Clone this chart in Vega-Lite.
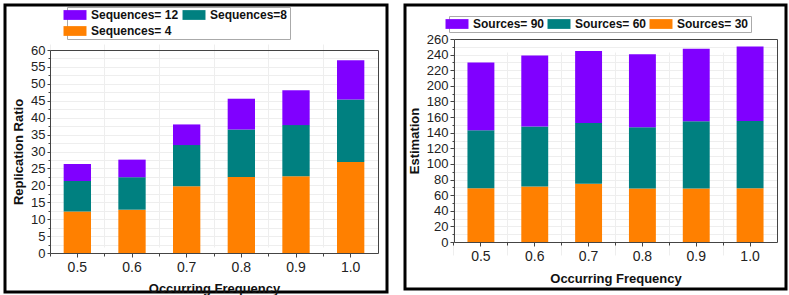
{
  "$schema": "https://vega.github.io/schema/vega-lite/v6.json",
  "padding": {"left": 3, "top": 3, "right": 0, "bottom": 0},
  "background": "white",
  "spacing": 14,
  "resolve": {"scale": {"color": "independent"}, "legend": {"color": "independent"}},
  "datasets": {
    "left": [
      {"freq": "0.5", "series": "Sequences= 4", "k": 1, "value": 12.3},
      {"freq": "0.5", "series": "Sequences=8", "k": 2, "value": 9.0},
      {"freq": "0.5", "series": "Sequences= 12", "k": 3, "value": 5.0},
      {"freq": "0.6", "series": "Sequences= 4", "k": 1, "value": 12.8},
      {"freq": "0.6", "series": "Sequences=8", "k": 2, "value": 9.6},
      {"freq": "0.6", "series": "Sequences= 12", "k": 3, "value": 5.2},
      {"freq": "0.7", "series": "Sequences= 4", "k": 1, "value": 19.7},
      {"freq": "0.7", "series": "Sequences=8", "k": 2, "value": 12.2},
      {"freq": "0.7", "series": "Sequences= 12", "k": 3, "value": 6.1},
      {"freq": "0.8", "series": "Sequences= 4", "k": 1, "value": 22.5},
      {"freq": "0.8", "series": "Sequences=8", "k": 2, "value": 14.0},
      {"freq": "0.8", "series": "Sequences= 12", "k": 3, "value": 9.1},
      {"freq": "0.9", "series": "Sequences= 4", "k": 1, "value": 22.7},
      {"freq": "0.9", "series": "Sequences=8", "k": 2, "value": 15.1},
      {"freq": "0.9", "series": "Sequences= 12", "k": 3, "value": 10.3},
      {"freq": "1.0", "series": "Sequences= 4", "k": 1, "value": 26.9},
      {"freq": "1.0", "series": "Sequences=8", "k": 2, "value": 18.5},
      {"freq": "1.0", "series": "Sequences= 12", "k": 3, "value": 11.6}
    ],
    "right": [
      {"freq": "0.5", "series": "Sources= 30", "k": 1, "value": 69},
      {"freq": "0.5", "series": "Sources= 60", "k": 2, "value": 74},
      {"freq": "0.5", "series": "Sources= 90", "k": 3, "value": 87},
      {"freq": "0.6", "series": "Sources= 30", "k": 1, "value": 71},
      {"freq": "0.6", "series": "Sources= 60", "k": 2, "value": 77},
      {"freq": "0.6", "series": "Sources= 90", "k": 3, "value": 91},
      {"freq": "0.7", "series": "Sources= 30", "k": 1, "value": 74.5},
      {"freq": "0.7", "series": "Sources= 60", "k": 2, "value": 78},
      {"freq": "0.7", "series": "Sources= 90", "k": 3, "value": 92},
      {"freq": "0.8", "series": "Sources= 30", "k": 1, "value": 68.5},
      {"freq": "0.8", "series": "Sources= 60", "k": 2, "value": 78.5},
      {"freq": "0.8", "series": "Sources= 90", "k": 3, "value": 93.5},
      {"freq": "0.9", "series": "Sources= 30", "k": 1, "value": 68.5},
      {"freq": "0.9", "series": "Sources= 60", "k": 2, "value": 86},
      {"freq": "0.9", "series": "Sources= 90", "k": 3, "value": 93},
      {"freq": "1.0", "series": "Sources= 30", "k": 1, "value": 69},
      {"freq": "1.0", "series": "Sources= 60", "k": 2, "value": 86},
      {"freq": "1.0", "series": "Sources= 90", "k": 3, "value": 95.5}
    ]
  },
  "hconcat": [
    {
      "width": 382,
      "height": 287,
      "data": {"name": "left"},
      "layer": [
        {
          "mark": {"type": "bar"},
          "encoding": {
            "x": {
              "field": "freq", "type": "ordinal",
              "scale": {"type": "band", "range": [45, 373], "paddingInner": 0.5, "paddingOuter": 0.25},
              "axis": {"orient": "bottom", "offset": -39, "title": "Occurring Frequency", "labelAngle": 0, "labelFontSize": 14, "tickSize": 4, "labelPadding": 3, "titlePadding": 8, "titleFontSize": 13, "grid": false}
            },
            "y": {
              "field": "value", "type": "quantitative", "stack": "zero",
              "scale": {"domain": [0, 60], "range": [248, 45], "nice": false, "zero": true},
              "axis": {"orient": "left", "offset": -45, "title": "Replication Ratio", "values": [0, 5, 10, 15, 20, 25, 30, 35, 40, 45, 50, 55, 60], "labelFontSize": 13, "tickSize": 3, "labelPadding": 2, "titlePadding": 5, "titleFontSize": 13, "grid": true}
            },
            "color": {
              "field": "series", "type": "nominal",
              "scale": {"domain": ["Sequences= 12", "Sequences=8", "Sequences= 4"], "range": ["#8000FF", "#008080", "#FF8000"]},
              "legend": {"orient": "none", "legendX": 62, "legendY": 2, "direction": "horizontal", "columns": 2, "title": null, "columnPadding": 3}
            },
            "order": {"field": "k", "type": "quantitative"}
          }
        },
        {
          "mark": {"type": "bar", "opacity": 0},
          "encoding": {
            "x": {
              "field": "freq", "type": "ordinal",
              "scale": {"type": "band", "range": [45, 373], "paddingInner": 0.5, "paddingOuter": 0.25},
              "axis": {"orient": "top", "offset": -45, "title": null, "labels": false, "ticks": false, "grid": false}
            },
            "y": {
              "field": "value", "type": "quantitative",
              "scale": {"domain": [0, 60], "range": [248, 45], "nice": false},
              "axis": {"orient": "right", "offset": -9, "title": null, "labels": false, "ticks": false, "grid": false}
            }
          }
        },
        {
          "mark": {"type": "bar", "opacity": 0},
          "encoding": {
            "x": {
              "field": "freq", "type": "ordinal",
              "scale": {"type": "band", "range": [45, 373], "paddingInner": 0.5, "paddingOuter": 0.25},
              "axis": {"orient": "bottom", "offset": -39, "title": null, "labels": false, "domain": false, "tickSize": 3, "bandPosition": -0.5, "grid": true}
            },
            "y": {
              "field": "value", "type": "quantitative",
              "scale": {"domain": [0, 60], "range": [248, 45], "nice": false},
              "axis": {"orient": "left", "offset": -45, "title": null, "labels": false, "domain": false, "tickSize": 2, "grid": true, "values": [2.5, 7.5, 12.5, 17.5, 22.5, 27.5, 32.5, 37.5, 42.5, 47.5, 52.5, 57.5]}
            }
          }
        }
      ],
      "resolve": {"axis": {"x": "independent", "y": "independent"}}
    },
    {
      "width": 381,
      "height": 284,
      "data": {"name": "right"},
      "layer": [
        {
          "mark": {"type": "bar"},
          "encoding": {
            "x": {
              "field": "freq", "type": "ordinal",
              "scale": {"type": "band", "range": [49, 372], "paddingInner": 0.5, "paddingOuter": 0.25},
              "axis": {"orient": "bottom", "offset": -47, "title": "Occurring Frequency", "labelAngle": 0, "labelFontSize": 14, "tickSize": 4, "labelPadding": 3, "titlePadding": 9, "titleFontSize": 13, "grid": false}
            },
            "y": {
              "field": "value", "type": "quantitative", "stack": "zero",
              "scale": {"domain": [0, 260], "range": [237, 34], "nice": false, "zero": true},
              "axis": {"orient": "left", "offset": -49, "title": "Estimation", "values": [0, 20, 40, 60, 80, 100, 120, 140, 160, 180, 200, 220, 240, 260], "labelFontSize": 13, "tickSize": 4, "labelPadding": 2, "titlePadding": 5, "titleFontSize": 13, "grid": true}
            },
            "color": {
              "field": "series", "type": "nominal",
              "scale": {"domain": ["Sources= 90", "Sources= 60", "Sources= 30"], "range": ["#8000FF", "#008080", "#FF8000"]},
              "legend": {"orient": "none", "legendX": 44, "legendY": 11, "direction": "horizontal", "columns": 3, "title": null, "columnPadding": 2}
            },
            "order": {"field": "k", "type": "quantitative"}
          }
        },
        {
          "mark": {"type": "bar", "opacity": 0},
          "encoding": {
            "x": {
              "field": "freq", "type": "ordinal",
              "scale": {"type": "band", "range": [49, 372], "paddingInner": 0.5, "paddingOuter": 0.25},
              "axis": {"orient": "top", "offset": -34, "title": null, "labels": false, "ticks": false, "grid": false}
            },
            "y": {
              "field": "value", "type": "quantitative",
              "scale": {"domain": [0, 260], "range": [237, 34], "nice": false},
              "axis": {"orient": "right", "offset": -9, "title": null, "labels": false, "ticks": false, "grid": false}
            }
          }
        },
        {
          "mark": {"type": "bar", "opacity": 0},
          "encoding": {
            "x": {
              "field": "freq", "type": "ordinal",
              "scale": {"type": "band", "range": [49, 372], "paddingInner": 0.5, "paddingOuter": 0.25},
              "axis": {"orient": "bottom", "offset": -47, "title": null, "labels": false, "domain": false, "tickSize": 3, "bandPosition": -0.5, "grid": true}
            },
            "y": {
              "field": "value", "type": "quantitative",
              "scale": {"domain": [0, 260], "range": [237, 34], "nice": false},
              "axis": {"orient": "left", "offset": -49, "title": null, "labels": false, "domain": false, "tickSize": 2, "grid": true, "values": [10, 30, 50, 70, 90, 110, 130, 150, 170, 190, 210, 230, 250]}
            }
          }
        }
      ],
      "resolve": {"axis": {"x": "independent", "y": "independent"}}
    }
  ],
  "config": {
    "font": "Liberation Sans",
    "view": {"stroke": "#000000", "strokeWidth": 3},
    "axis": {
      "gridColor": "#eeeeee",
      "gridWidth": 1,
      "domainColor": "#444444",
      "tickColor": "#444444",
      "labelColor": "#222222",
      "titleColor": "#111111",
      "labelFont": "Liberation Sans",
      "titleFont": "Liberation Sans",
      "titleFontWeight": "bold"
    },
    "legend": {
      "labelFont": "Liberation Sans",
      "labelFontSize": 12,
      "labelFontWeight": "bold",
      "labelColor": "#111111",
      "symbolType": "M-2,-0.85H2V0.85H-2Z",
      "symbolSize": 132,
      "symbolStrokeWidth": 0,
      "symbolOpacity": 1,
      "labelOffset": 10,
      "rowPadding": 4,
      "padding": 2,
      "strokeColor": "#aaaaaa",
      "fillColor": "#ffffff"
    }
  }
}
